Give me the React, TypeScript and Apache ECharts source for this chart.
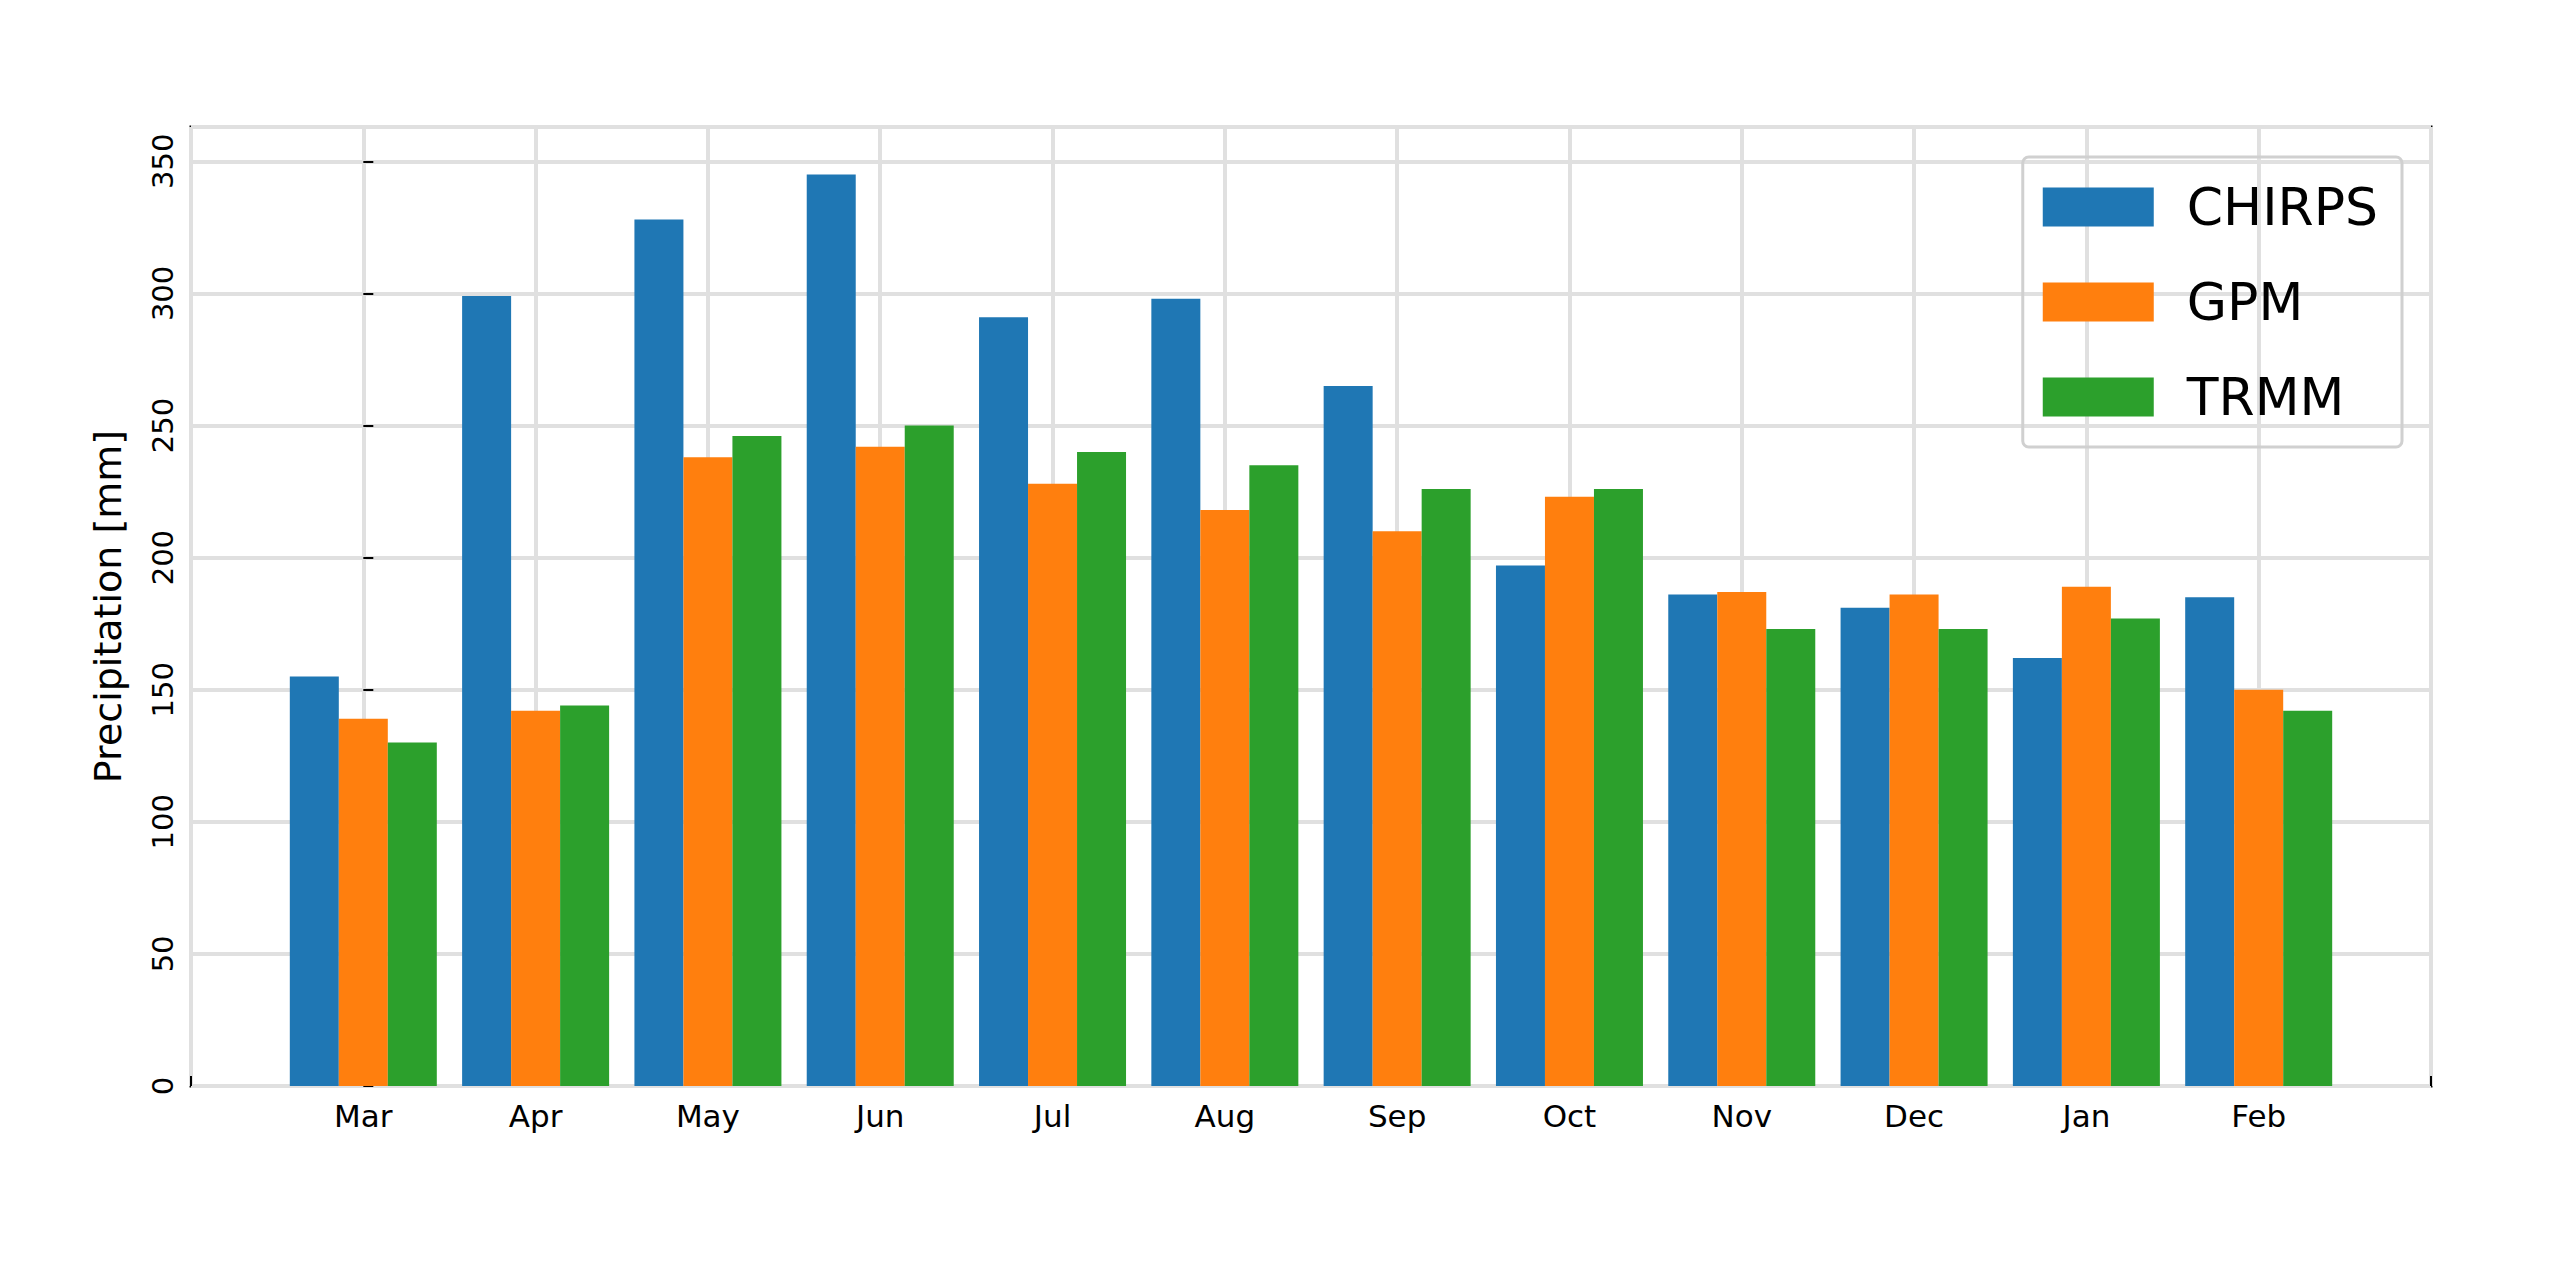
import React, { useEffect, useRef } from "react";
import * as echarts from "echarts";

const months = ["Mar","Apr","May","Jun","Jul","Aug","Sep","Oct","Nov","Dec","Jan","Feb"];
const chirps = [155, 299, 328, 345, 291, 298, 265, 197, 186, 181, 162, 185];
const gpm = [139, 142, 238, 242, 228, 218, 210, 223, 187, 186, 189, 150];
const trmm = [130, 144, 246, 250, 240, 235, 226, 226, 173, 173, 177, 142];
const yTicks = [0, 50, 100, 150, 200, 250, 300, 350];

export default function App() {
  const ref = useRef<HTMLDivElement>(null);
  useEffect(() => {
    document.body.style.margin = "0";
    const chart = echarts.init(ref.current!, null, { renderer: "svg" });
    const font = "DejaVu Sans";
    const mk = (name: string, vals: number[], color: string) => ({
      name, type: "bar", data: vals.map((v, i) => [i, v]),
      barWidth: 49, barGap: "0%", itemStyle: { color }, emphasis: { disabled: true },
    });
    chart.setOption({
      animation: false,
      backgroundColor: "#fff",
      textStyle: { fontFamily: font },
      grid: { left: 191, right: 129, top: 127, bottom: 194, show: true, borderColor: "#000", borderWidth: 3, backgroundColor: "transparent" },
      legend: {
        right: 158, top: 157, orient: "vertical", itemWidth: 111, itemHeight: 39, itemGap: 43,
        padding: [24, 24, 24, 20], borderColor: "#d0d0d0", borderWidth: 3, borderRadius: 6,
        icon: "rect", textStyle: { fontSize: 52, fontFamily: font, color: "#000", padding: [0, 0, 0, 28] },
        data: ["CHIRPS", "GPM", "TRMM"],
      },
      xAxis: {
        type: "value", min: -1, max: 12, interval: 1,
        axisLine: { show: false },
        axisTick: { show: true, inside: true, length: 10, lineStyle: { color: "#000", width: 2 } },
        axisLabel: { fontSize: 31, color: "#000", margin: 14, formatter: (v: number) => months[v] ?? "" },
        splitLine: { show: true, lineStyle: { color: "#e0e0e0", width: 4 } },
      },
      yAxis: {
        type: "value", min: 0, max: 363, interval: 50,
        name: "Precipitation [mm]", nameLocation: "middle", nameGap: 64,
        nameTextStyle: { fontSize: 38, color: "#000", fontFamily: font },
        axisLine: { show: false },
        axisTick: { show: true, inside: true, length: 10, lineStyle: { color: "#000", width: 2 } },
        axisLabel: { fontSize: 29, color: "#000", rotate: 90, margin: 14, showMaxLabel: false,
          formatter: (v: number) => (yTicks.includes(v) ? String(v) : "") },
        splitLine: { show: true, lineStyle: { color: "#e0e0e0", width: 4 } },
      },
      series: [mk("CHIRPS", chirps, "#1f77b4"), mk("GPM", gpm, "#ff7f0e"), mk("TRMM", trmm, "#2ca02c")],
    });
    return () => chart.dispose();
  }, []);
  return <div ref={ref} style={{ width: 2560, height: 1280 }} />;
}
